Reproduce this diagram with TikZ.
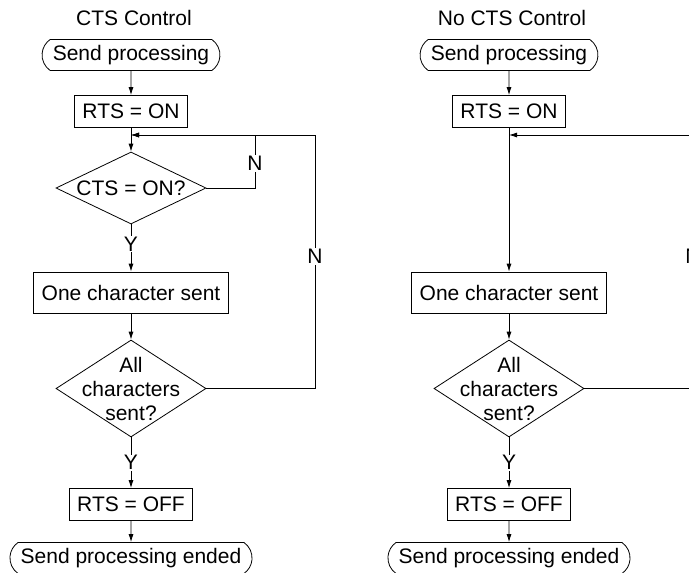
\documentclass[tikz,border=0pt]{standalone}
\usepackage{fontspec}
\setmainfont{Liberation Sans}
\usetikzlibrary{arrows.meta,shapes.geometric,shapes.misc}
\tikzset{
  term/.style={draw,rounded rectangle,rounded rectangle arc length=110,minimum height=31pt,inner xsep=8pt,inner ysep=0pt},
  proc/.style={draw,rectangle,minimum height=32pt,inner xsep=8pt,inner ysep=0pt},
  decide/.style={draw,diamond,align=center,minimum width=150pt,inner sep=-20pt},
  flow/.style={-{Latex[length=8pt,width=5pt]}},
  yn/.style={fill=white,inner sep=1pt}
}
\begin{document}
\begin{tikzpicture}[x=1pt,y=-1pt,line width=0.8pt,font=\fontsize{21}{24}\selectfont]
\useasboundingbox (0,0) rectangle (689,573);
\clip (0,0) rectangle (689,573);
% the parts both charts share
\foreach \i/\dx/\t in {1/0/CTS Control,2/378/No CTS Control}
{
  \node (title\i) at (\dx+134,18) {\t};
  \node[term] (start\i) at (\dx+131,55) {Send processing};
  \node[proc] (rtson\i) at (\dx+131,111.5) {RTS = ON};
  \coordinate (join\i) at (\dx+131,135);
  \node[proc,minimum height=41pt] (one\i) at (\dx+131,292.5) {One character sent};
  \node[decide,minimum height=97pt] (all\i) at (\dx+131,388.5) {All\\characters\\sent?};
  \node[proc] (rtsoff\i) at (\dx+131,504.5) {RTS = OFF};
  \node[term] (end\i) at (\dx+131,558) {Send processing ended};
  \coordinate (turn\i) at (\dx+315,135);
  \draw[flow] (start\i) -- (rtson\i);
  \draw[flow] (one\i) -- (all\i);
  \draw[flow] (all\i) -- node[yn,pos=0.5] (yes\i) {Y} (rtsoff\i);
  \draw[flow] (rtsoff\i) -- (end\i);
  \draw[flow] (all\i.east) -| node[yn,pos=0.76] (no\i) {N} (turn\i) -- (join\i);
}
% CTS wait, left chart only
\node[decide,minimum height=72pt] (cts) at (131,188) {CTS = ON?};
\coordinate (turncts) at (255,135);
\draw[flow] (rtson1) -- (cts);
\draw[flow] (cts) -- node[yn,pos=0.42] (yescts) {Y} (one1);
\draw[flow] (cts.east) -| node[yn,pos=0.73] (nocts) {N} (turncts) -- (join1);
% no CTS, right chart
\draw[flow] (rtson2) -- (one2);
\end{tikzpicture}
\end{document}
